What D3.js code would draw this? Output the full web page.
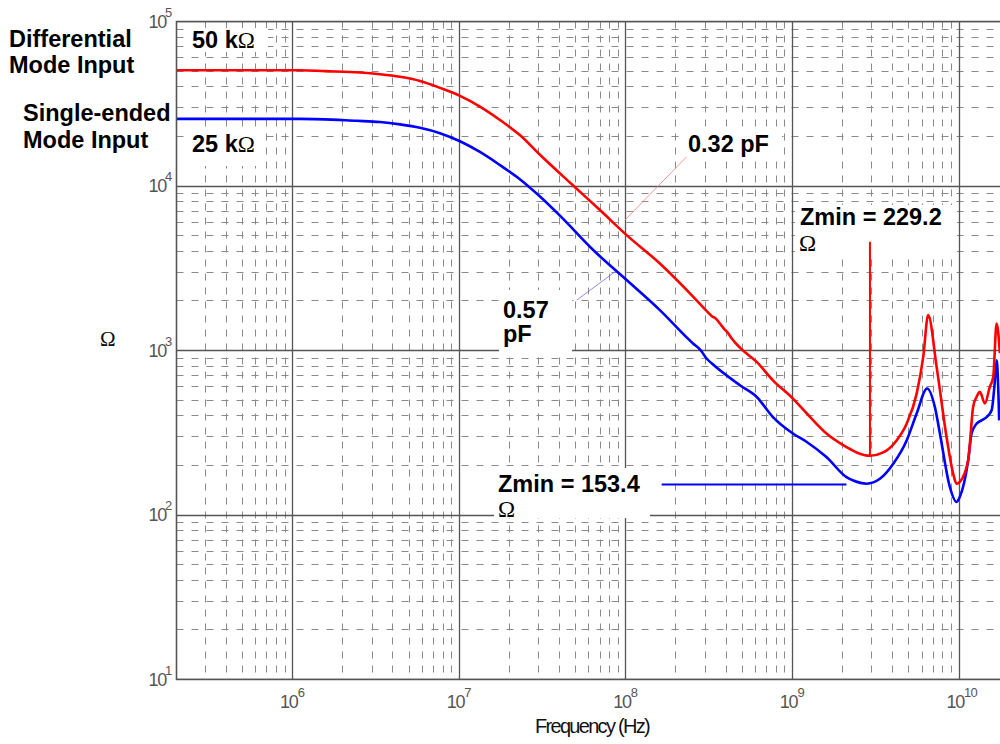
<!DOCTYPE html>
<html><head><meta charset="utf-8">
<script src="https://cdn.jsdelivr.net/npm/d3@7"></script>
<style>
body{margin:0;background:#fff;}
svg{display:block;font-family:Arial,"Liberation Sans",sans-serif;}
</style></head>
<body><svg id="c" width="1000" height="744"></svg>
<script>
// ---- data ----
const redFreq = [2.01e5,1.11e6,1.56e6,2.53e6,3.34e6,4.41e6,5.81e6,7.66e6,1.01e7,1.33e7,1.755e7,2.31e7,3.05e7,4.81e7,6.99e7,1.011e8,1.6e8,2.54e8,3.05e8,3.3e8,3.45e8,3.67e8,3.9e8,4.1e8,4.3e8,4.84e8,6.1e8,7.64e8,1.007e9,1.22e9,1.6e9,2.11e9,2.43e9,2.92e9,3.51e9,4.22e9,4.85e9,5.57e9,6.1e9,6.53e9,7.34e9,8.42e9,9.23e9,9.67e9,1.012e10,1.135e10,1.216e10,1.275e10,1.335e10,1.43e10,1.53e10,1.605e10,1.682e10,1.76e10];
const redZ    = [50500,50500,49900,49000,47800,46100,43500,39500,35300,30400,25200,20400,15500,10100,7140,5030,3380,2120,1740,1610,1570,1460,1350,1280,1190,1040,852,659,510,414,313,259,240,229,240,284,359,547,914,1641,795,298,178,155,159,215,454,522,560,476,600,691,1460,963];
const blueFreq = [2.01e5,1.11e6,2.42e6,3.34e6,4.41e6,5.81e6,7.66e6,1.01e7,1.33e7,1.755e7,2.31e7,2.95e7,4.02e7,6.37e7,1.011e8,1.6e8,2.54e8,2.8e8,3.05e8,3.3e8,4.84e8,6.1e8,7.64e8,1.007e9,1.22e9,1.6e9,2.11e9,2.32e9,2.79e9,3.35e9,4.03e9,4.85e9,5.57e9,6.44e9,7.16e9,7.68e9,8.81e9,9.67e9,1.012e10,1.135e10,1.19e10,1.275e10,1.367e10,1.465e10,1.57e10,1.643e10,1.682e10,1.743e10];
const blueZ    = [25600,25600,24900,24500,23700,22600,20950,18700,16100,13400,11000,8900,6600,4080,2680,1760,1100,1010,894,830,615,522,394,313,278,225,170,162,155,166,205,284,414,587,454,313,148,120,129,215,313,359,376,394,433,659,873,376];
const xMajor = [1e6,1e7,1e8,1e9,1e10];
const yMajor = [1e1,1e2,1e3,1e4,1e5];
const xExp = ["6","7","8","9","10"];
const yExp = ["1","2","3","4","5"];
const redZmin = 229.2, redZminFreq = 2.92e9, redMarkTop = 4580;
const blueZmin = 153.4, blueLineFreq = [1.64e8, 2.11e9];
const redPointer = {f:[9.88e7,2.32e8], z:[6210,15070]};
const bluePointer = {f:[5.07e7,8.6e7], z:[2024,3010]};

// ---- layout ----
const svg = d3.select("#c");
const L = 176.5, R = 1000, T = 21.5, B = 679.5;
const x = d3.scaleLog().domain([1e6,1e10]).range([292.7,959]);
const y = d3.scaleLog().domain([1e1,1e5]).range([B,T]);
const xMin = x.invert(L), xMax = x.invert(R);
const snap = v => Math.round(v - 0.5) + 0.5;

svg.append("defs").append("clipPath").attr("id","clip")
  .append("rect").attr("x",L).attr("y",T).attr("width",R-L).attr("height",B-T);

const minorX = [], minorY = [];
for (let e=5;e<=10;e++) for (let k=2;k<=9;k++){const v=k*Math.pow(10,e); if(v>xMin&&v<xMax) minorX.push(v);}
for (let e=1;e<=4;e++) for (let k=2;k<=9;k++) minorY.push(k*Math.pow(10,e));

const g = svg.append("g").attr("clip-path","url(#clip)");
g.selectAll(".mx").data(minorX).join("line")
  .attr("x1",d=>snap(x(d))).attr("x2",d=>snap(x(d))).attr("y1",T).attr("y2",B)
  .attr("stroke","#8a8a8a").attr("stroke-width",1).attr("stroke-dasharray","7,7");
g.selectAll(".my").data(minorY).join("line")
  .attr("x1",L).attr("x2",R).attr("y1",d=>snap(y(d))).attr("y2",d=>snap(y(d)))
  .attr("stroke","#8a8a8a").attr("stroke-width",1).attr("stroke-dasharray","7,8");
g.selectAll(".Mx").data(xMajor).join("line")
  .attr("x1",d=>snap(x(d))).attr("x2",d=>snap(x(d))).attr("y1",T).attr("y2",B)
  .attr("stroke","#555").attr("stroke-width",1.3);
g.selectAll(".My").data(yMajor).join("line")
  .attr("x1",L).attr("x2",R).attr("y1",d=>snap(y(d))).attr("y2",d=>snap(y(d)))
  .attr("stroke","#555").attr("stroke-width",1.3);

// white label boxes (hide grid under annotation text)
const boxes = [
  [190,28,78,24],[188,128,78,38],
  [686,130,96,28],[499,290,73,63],
  [494,468,156,50],[795,205,162,52]
];
g.selectAll(".box").data(boxes).join("rect")
  .attr("x",d=>d[0]).attr("y",d=>d[1]).attr("width",d=>d[2]).attr("height",d=>d[3]).attr("fill","#fff");

// frame
svg.append("path").attr("d",`M${R},${T}H${L}V${B}H${R}`).attr("fill","none").attr("stroke","#555").attr("stroke-width",1.6);

// pointer lines
const pl = d3.line().x(d=>x(d[0])).y(d=>y(d[1]));
g.append("path").attr("d",pl(d3.zip(redPointer.f,redPointer.z))).attr("stroke","#f08080").attr("stroke-width",0.8).attr("fill","none");
g.append("path").attr("d",pl(d3.zip(bluePointer.f,bluePointer.z))).attr("stroke","#7070ff").attr("stroke-width",0.8).attr("fill","none");

// curves
const line = d3.line().x(d=>x(d[0])).y(d=>y(d[1])).curve(d3.curveMonotoneX);
g.append("path").attr("d",line(d3.zip(blueFreq,blueZ))).attr("fill","none").attr("stroke","#0000ff").attr("stroke-width",2.6).attr("stroke-linejoin","round");
g.append("path").attr("d",line(d3.zip(redFreq,redZ))).attr("fill","none").attr("stroke","#ff0000").attr("stroke-width",2.6).attr("stroke-linejoin","round");

// Zmin markers
g.append("line").attr("x1",x(redZminFreq)).attr("x2",x(redZminFreq)).attr("y1",y(redZmin)).attr("y2",y(redMarkTop)).attr("stroke","#ff0000").attr("stroke-width",2);
g.append("line").attr("x1",x(blueLineFreq[0])).attr("x2",x(blueLineFreq[1])).attr("y1",y(blueZmin)).attr("y2",y(blueZmin)).attr("stroke","#0000ff").attr("stroke-width",2);

// tick labels
const tickCol = "#555";
svg.selectAll(".xl").data(xMajor).join("text")
  .attr("x",d=>x(d)+5).attr("y",708).attr("text-anchor","end")
  .attr("fill",tickCol).attr("font-size",18).attr("letter-spacing",-1.2).text("10");
svg.selectAll(".xe").data(xMajor).join("text")
  .attr("x",d=>x(d)+5).attr("y",697).attr("fill",tickCol).attr("font-size",13).attr("letter-spacing",-0.8).text((d,i)=>xExp[i]);

svg.selectAll(".yl").data(yMajor).join("text")
  .attr("x",166).attr("y",d=>y(d)+6).attr("text-anchor","end")
  .attr("fill",tickCol).attr("font-size",18).attr("letter-spacing",-1.2).text("10");
svg.selectAll(".ye").data(yMajor).join("text")
  .attr("x",165).attr("y",d=>y(d)-5).attr("fill",tickCol).attr("font-size",13).text((d,i)=>yExp[i]);

// axis titles
svg.append("text").attr("x",592).attr("y",733).attr("text-anchor","middle").attr("font-size",20)
  .attr("letter-spacing",-1.7).attr("fill","#111").text("Frequency (Hz)");
svg.append("text").attr("x",100).attr("y",346).attr("font-size",21).attr("font-family","'Liberation Serif',serif").attr("fill","#111").text("Ω");

// annotation text
function bold(t,xx,yy){return svg.append("text").attr("x",xx).attr("y",yy).attr("font-size",23.5).attr("font-weight","bold").attr("fill","#000").text(t);}
function omega(xx,yy){svg.append("text").attr("x",xx).attr("y",yy).attr("font-size",23).attr("font-family","'Liberation Serif',serif").attr("fill","#000").text("Ω");}
bold("Differential",9,47);
bold("Mode Input",9,73);
bold("Single-ended",23,121);
bold("Mode Input",23,148);
bold("50 k",192,48).append("tspan").attr("font-weight","normal").attr("font-family","'Liberation Serif',serif").attr("font-size",23).text("Ω");
bold("25 k",192,152).append("tspan").attr("font-weight","normal").attr("font-family","'Liberation Serif',serif").attr("font-size",23).text("Ω");
bold("0.32 pF",688,152);
bold("0.57",503,318);
bold("pF",503,342);
bold("Zmin = 153.4",498,492);
omega(498,517);
bold("Zmin = 229.2",800,225);
omega(799,251);
</script></body></html>
